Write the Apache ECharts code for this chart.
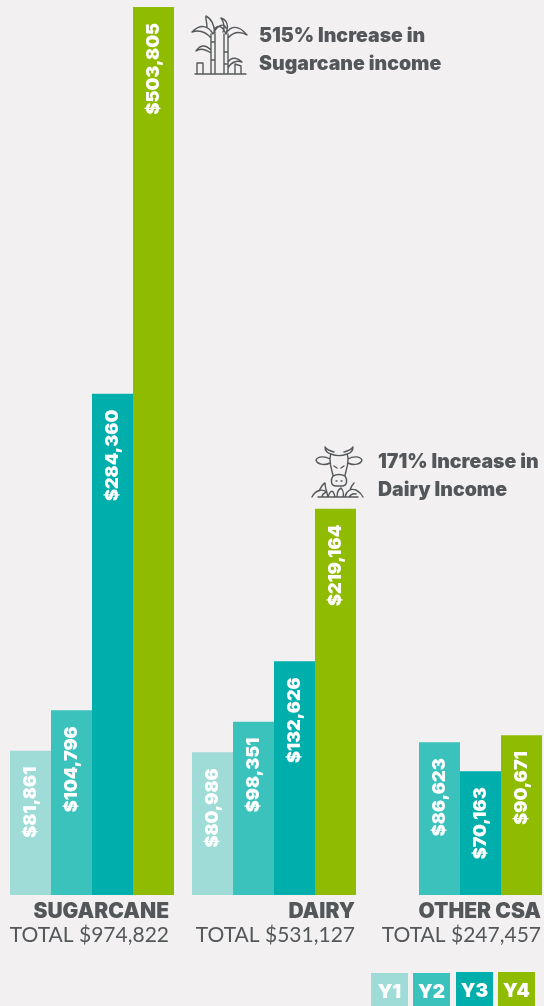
<!DOCTYPE html>
<html><head><meta charset="utf-8">
<style>html,body{margin:0;padding:0;background:#f2f0f1}#c{width:544px;height:1006px}</style>
<script src="https://cdn.jsdelivr.net/npm/echarts@6/dist/echarts.min.js"></script>
</head><body><div id="c"></div>
<script>
const years = ['Y1','Y2','Y3','Y4'];
const groups = ['SUGARCANE','DAIRY','OTHER CSA'];
const totals = ['TOTAL $974,822','TOTAL $531,127','TOTAL $247,457'];
const sugarcane = [81861,104796,284360,503805];
const dairy = [80986,98351,132626,219164];
const otherCsa = [null,86623,70163,90671];
const colors = ['#9fdcd8','#3cc2bd','#00aeac','#8fbc00'];
const callouts = [['515% Increase in','Sugarcane income'],['171% Increase in','Dairy Income']];
const groupData = [sugarcane,dairy,otherCsa];
const FONT = 'Inter';
const FONT2 = 'Lato';
const INK = '#54575a';
const plots = [{left:10,width:164,label:154},{left:192,width:164,label:162},{left:378,width:164,label:162}];
const axisMax = 503805;
const grid=[],xAxis=[],yAxis=[],series=[];
plots.forEach((p,i)=>{
  grid.push({left:p.left,width:p.width,top:7,height:888});
  xAxis.push({type:'category',gridIndex:i,data:[groups[i]],axisLine:{show:false},axisTick:{show:false},
    axisLabel:{margin:6,interval:0,
      formatter:(v)=>'{a|'+v+'}\n{b|'+totals[i]+'}',
      rich:{a:{width:p.label,align:'right',fontFamily:FONT,fontWeight:900,fontSize:21,color:INK,lineHeight:22},
            b:{width:p.label,align:'right',fontFamily:FONT2,fontWeight:400,fontSize:21,color:INK,lineHeight:24}}}});
  yAxis.push({type:'value',gridIndex:i,min:0,max:axisMax,show:false,splitLine:{show:false}});
  years.forEach((y,k)=>{
    series.push({type:'bar',name:y,xAxisIndex:i,yAxisIndex:i,data:[groupData[i][k]],barWidth:41,barGap:'0%',barCategoryGap:'0%',
      itemStyle:{color:colors[k]},silent:true,
      label:{show:groupData[i][k]!=null,position:'insideTop',distance:16,rotate:90,align:'right',verticalAlign:'middle',
        fontFamily:FONT,fontWeight:900,fontSize:18,color:'#fff',
        formatter:(d)=>'$'+d.value.toLocaleString('en-US')}});
  });
});
const graphic=[];
const chips=[[371,973,37,33],[413,973,37,33],[456,972,37,34],[498,972,37,34]];
years.forEach((y,k)=>{
  const c=chips[k];
  graphic.push({type:'rect',silent:true,shape:{x:c[0],y:c[1],width:c[2],height:c[3]},style:{fill:colors[k]}});
  graphic.push({type:'text',silent:true,x:c[0]+c[2]/2,y:c[1]+19,style:{text:y,fill:'#fff',font:'900 19px '+FONT,textAlign:'center',textVerticalAlign:'middle'}});
});
[[259,36,0],[378,462,1]].forEach(([x,y,n])=>{
  callouts[n].forEach((t,j)=>{
    graphic.push({type:'text',silent:true,x:x,y:y+j*28,style:{text:t,fill:INK,font:'900 19.5px '+FONT,textVerticalAlign:'middle'}});
  });
});
const line={stroke:'#55585b',lineWidth:1.4,fill:null,lineCap:'round',lineJoin:'round'};
const cane='M195 74H246 M197 73V63H203V73 M235 73V64L241 66V73 M211 73V34 M215 73V34 M224 73V34 M228 73V34 M211 60H215 M224 52H228 M224 64H228 M211 42H215 '+
 'M213 34C208 25 200 24 192 32C198 30 205 31 211 38 M213 34C217 26 223 22 226 28 M207 27C207 21 205 18 206 16C210 18 214 24 215 33 M226 34C222 24 216 25 214 31 M226 34C230 26 238 24 247 35C240 31 234 31 228 38 M226 34C229 25 227 20 221 18C224 22 225 28 223 32 M211 50C205 44 200 45 196 51C200 48 205 49 211 53 M228 62C232 56 238 58 242 62C237 60 231 62 228 68';
const cow='M331 454C336 456 342 456 347 454 M331 454C327 453 325 450 325 447C327 450 330 451 334 452 M347 454C351 453 353 450 353 447C351 450 348 451 344 452 '+
 'M330 459C325 456 318 456 316 460C317 464 324 466 330 463 M348 459C353 456 360 456 362 460C361 464 354 466 348 463 '+
 'M331 454C330 456 330 457 330 459C330 468 333 473 333 476C330 480 331 486 336 486H342C347 486 348 480 345 476C345 473 348 468 348 459C348 457 348 456 347 454 '+
 'M333 476C337 474 341 474 345 476 M334 466L337 468 M344 466L341 468 M336 481H337 M341 481H342 '+
 'M312 497C315 491 321 488 327 492C324 493 322 494 322 497 M319 491C321 487 323 484 325 483C325 488 327 492 328 497 M328 497C330 491 333 488 335 497 M337 497C337 492 339 489 341 488C343 490 344 494 343 497 M345 497C346 491 351 488 356 490C360 492 362 495 363 497 M349 497C351 494 353 493 356 494 M350 490C351 487 352 485 354 483 M318 497H358';
echarts.graphic.registerShape('caneIcon',echarts.graphic.extendPath(cane,{}));
echarts.graphic.registerShape('cowIcon',echarts.graphic.extendPath(cow,{}));
graphic.push({type:'caneIcon',silent:true,shape:{},style:line});
graphic.push({type:'cowIcon',silent:true,shape:{},style:line});
const chart=echarts.init(document.getElementById('c'),null,{renderer:'canvas'});
chart.setOption({backgroundColor:'#f2f0f1',animation:false,tooltip:{show:false},legend:{show:false},grid,xAxis,yAxis,series,graphic});
</script></body></html>
